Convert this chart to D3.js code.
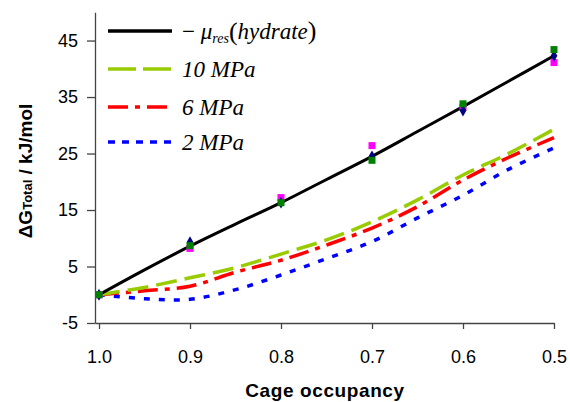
<!DOCTYPE html>
<html>
<head>
<meta charset="utf-8">
<script src="https://cdn.jsdelivr.net/npm/d3@7"></script>
<style>
  body { margin: 0; background: #fff; }
  text { font-family: "Liberation Sans", Arial, sans-serif; }
  .leg { font-family: "Liberation Serif", "Times New Roman", serif; font-style: italic; font-size: 23px; }
</style>
</head>
<body>
<div id="chart"></div>
<script>
const width = 570;
const height = 402;

// occupancy values for the curves
const occupancy = [1.0, 0.95, 0.9, 0.85, 0.8, 0.75, 0.7, 0.65, 0.6, 0.55, 0.5];
const hydrate = [0, 4.4, 8.6, 12.5, 16.3, 20.4, 24.5, 28.9, 33.3, 37.8, 42.3];
const mpa10 = [0, 1.3, 3.0, 4.8, 7.2, 9.7, 12.9, 16.8, 21.2, 25.0, 29.3];
const mpa6 = [0, 0.7, 1.5, 4.0, 6.1, 8.8, 11.8, 15.6, 20.3, 24.3, 27.8];
const mpa2 = [0, -0.7, -0.8, 0.9, 3.5, 6.4, 9.4, 13.6, 17.6, 22.2, 26.0];

// marker series at the cage occupancies
const markerOcc = [1.0, 0.9, 0.8, 0.7, 0.6, 0.5];
const navyPts = [0, 9.3, 16.3, 24.5, 32.6, 42.3];
const greenPts = [0, 8.7, 16.3, 23.8, 33.8, 43.4];
const magentaPts = [0, 8.2, 17.2, 26.4, 33.2, 41.1];

const xTicks = [1.0, 0.9, 0.8, 0.7, 0.6, 0.5];
const yTicks = [-5, 5, 15, 25, 35, 45];

const legendLabels = ["10 MPa", "6 MPa", "2 MPa"];

const svg = d3.select("#chart").append("svg")
  .attr("width", width)
  .attr("height", height);

const x = d3.scaleLinear().domain([1.0044, 0.5]).range([95, 554]);
const y = d3.scaleLinear().domain([-5, 50]).range([323, 12.3]);

// axes
const xAxis = svg.append("g")
  .attr("transform", `translate(0,${y(-5)})`)
  .call(d3.axisBottom(x).tickValues(xTicks).tickFormat((d) => d.toFixed(1)).tickSize(6).tickSizeOuter(0));
xAxis.select(".domain").attr("stroke", "#444").attr("stroke-width", 1.3);
xAxis.selectAll(".tick line").attr("stroke", "#444").attr("stroke-width", 1.3);
xAxis.selectAll("text").attr("font-size", 18).attr("fill", "#000").attr("y", 22).attr("dy", "1em");

const yAxis = svg.append("g")
  .attr("transform", `translate(${x.range()[0]},0)`)
  .call(d3.axisLeft(y).tickValues(yTicks).tickFormat((d) => String(d)).tickSize(8).tickSizeOuter(0));
yAxis.select(".domain").attr("stroke", "#444").attr("stroke-width", 1.3);
yAxis.selectAll(".tick line").attr("stroke", "#444").attr("stroke-width", 1.3);
yAxis.selectAll("text").attr("font-size", 18).attr("fill", "#000").attr("x", -17);

// axis titles
svg.append("text")
  .attr("x", 325).attr("y", 397)
  .attr("text-anchor", "middle")
  .attr("font-size", 19).attr("font-weight", "bold")
  .attr("letter-spacing", 0.6)
  .text("Cage occupancy");

const yt = svg.append("text")
  .attr("transform", "translate(32,171) rotate(-90)")
  .attr("text-anchor", "middle")
  .attr("font-size", 19).attr("font-weight", "bold");
yt.append("tspan").text("\u0394G");
yt.append("tspan").attr("font-size", 13).text("Total");
yt.append("tspan").text(" / kJ/mol");

// curves
const line = d3.line()
  .x((d) => x(d[0]))
  .y((d) => y(d[1]))
  .curve(d3.curveCatmullRom.alpha(0.5));

const series = [
  { vals: mpa2, color: "#0000ff", dash: "6,9", legDash: "7,7" },
  { vals: mpa6, color: "#ff0000", dash: "20,7,5,7", legDash: "20,7,5,7" },
  { vals: mpa10, color: "#99cc00", dash: "21,8", legDash: "28,7" },
];

series.forEach((s) => {
  svg.append("path")
    .datum(occupancy.map((o, i) => [o, s.vals[i]]))
    .attr("d", line)
    .attr("fill", "none")
    .attr("stroke", s.color)
    .attr("stroke-width", 3.5)
    .attr("stroke-dasharray", s.dash);
});

svg.append("path")
  .datum(occupancy.map((o, i) => [o, hydrate[i]]))
  .attr("d", line)
  .attr("fill", "none")
  .attr("stroke", "#000")
  .attr("stroke-width", 3);

// markers
svg.append("g").selectAll("rect")
  .data(markerOcc.map((o, i) => [o, magentaPts[i]]))
  .join("rect")
  .attr("x", (d) => x(d[0]) - 3.5).attr("y", (d) => y(d[1]) - 3.5)
  .attr("width", 7).attr("height", 7)
  .attr("fill", "#ff00ff");

svg.append("g").selectAll("path")
  .data(markerOcc.map((o, i) => [o, navyPts[i]]))
  .join("path")
  .attr("transform", (d) => `translate(${x(d[0])},${y(d[1])})`)
  .attr("d", d3.symbol(d3.symbolDiamond, 40))
  .attr("fill", "#000080");

svg.append("g").selectAll("rect")
  .data(markerOcc.map((o, i) => [o, greenPts[i]]))
  .join("rect")
  .attr("x", (d) => x(d[0]) - 3.5).attr("y", (d) => y(d[1]) - 3.5)
  .attr("width", 7).attr("height", 7)
  .attr("fill", "#008000");

// legend
const legRows = [31, 69, 107, 142];
const leg = svg.append("g");
leg.append("line")
  .attr("x1", 108).attr("x2", 172).attr("y1", legRows[0]).attr("y2", legRows[0])
  .attr("stroke", "#000").attr("stroke-width", 3.5);
const t0 = leg.append("text").attr("class", "leg").attr("x", 182).attr("y", legRows[0] + 8);
t0.append("tspan").attr("font-style", "normal").text("\u2212 ");
t0.append("tspan").text("\u03bc");
t0.append("tspan").attr("font-size", 14).attr("dy", 4).text("res");
t0.append("tspan").attr("font-style", "normal").attr("font-size", 26).attr("dy", -3).text("(");
t0.append("tspan").attr("dy", -1).text("hydrate");
t0.append("tspan").attr("font-style", "normal").attr("font-size", 26).text(")");

[series[2], series[1], series[0]].forEach((s, i) => {
  const yy = legRows[i + 1];
  leg.append("line")
    .attr("x1", 108).attr("x2", 172).attr("y1", yy).attr("y2", yy)
    .attr("stroke", s.color).attr("stroke-width", 3.5)
    .attr("stroke-dasharray", s.legDash);
  leg.append("text").attr("class", "leg")
    .attr("x", 182).attr("y", yy + 8)
    .text(legendLabels[i]);
});
</script>
</body>
</html>
